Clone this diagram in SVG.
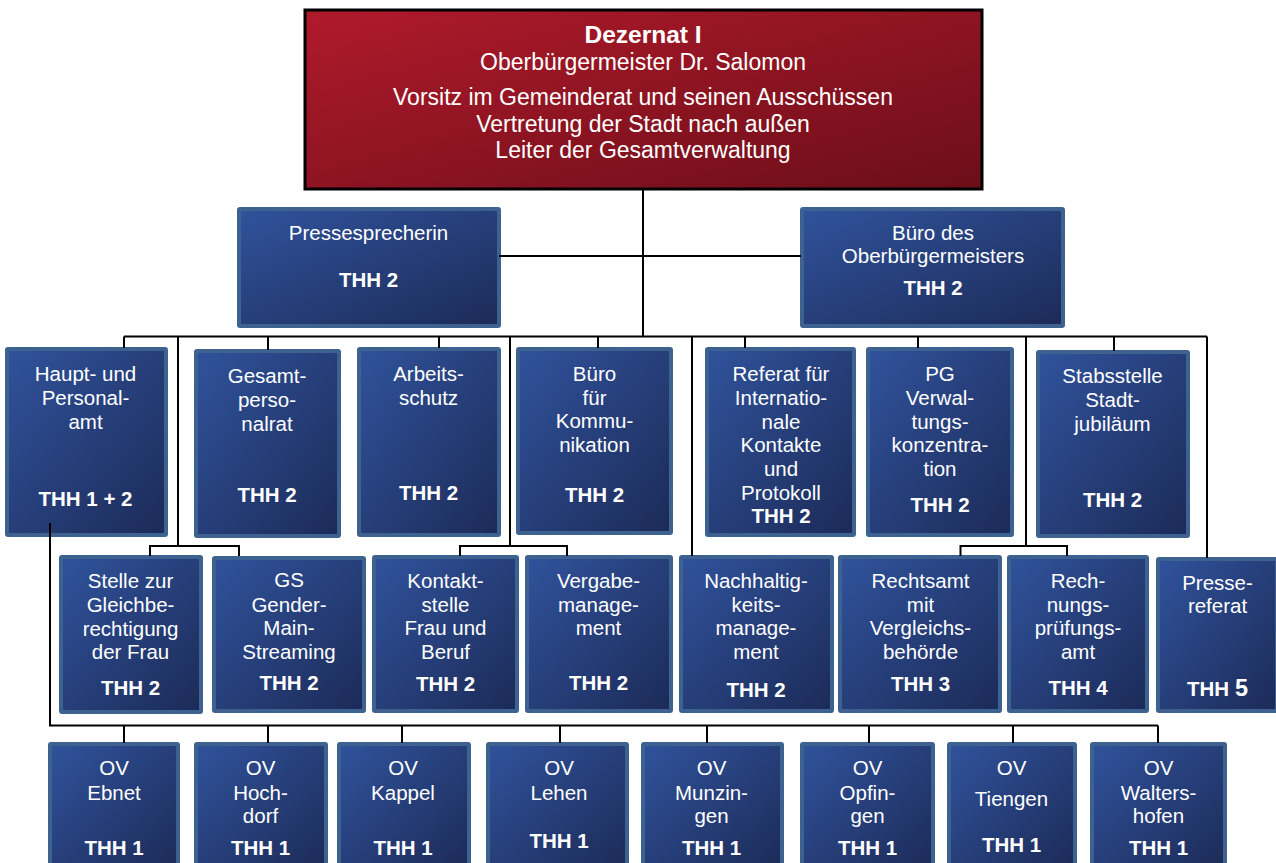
<svg xmlns="http://www.w3.org/2000/svg" width="1276" height="863" viewBox="0 0 1276 863">
<defs>
<linearGradient id="blue" x1="0" y1="0" x2="1" y2="1">
<stop offset="0" stop-color="#30529b"/>
<stop offset="1" stop-color="#1c2b58"/>
</linearGradient>
<linearGradient id="red" x1="0" y1="0" x2="1" y2="1">
<stop offset="0" stop-color="#b01a2b"/>
<stop offset="1" stop-color="#6b0e19"/>
</linearGradient>
<style>
.frame{fill:#3d6290}
.fill{fill:url(#blue)}
.t{font-family:"Liberation Sans",Arial,sans-serif;font-size:20.5px;fill:#fff;text-anchor:middle}
.b{font-weight:bold}
.c{fill:none;stroke:#000;stroke-width:2}
</style>
</defs>
<rect width="1276" height="863" fill="#fff"/>

<g id="dezernat">
<rect x="305" y="10" width="677" height="179" fill="url(#red)" stroke="#000" stroke-width="3"/>
<text class="t b" x="643" y="43" style="font-size:24.5px">Dezernat I</text>
<text class="t" x="643" y="70" style="font-size:23px">Oberbürgermeister Dr. Salomon</text>
<text class="t" x="643" y="105" style="font-size:23px">Vorsitz im Gemeinderat und seinen Ausschüssen</text>
<text class="t" x="643" y="131.5" style="font-size:23px">Vertretung der Stadt nach außen</text>
<text class="t" x="643" y="158" style="font-size:23px">Leiter der Gesamtverwaltung</text>
</g>

<g id="pressesprecherin">
<rect class="frame" x="237" y="207" width="264" height="121" rx="3"/>
<rect class="fill" x="241" y="211" width="256" height="113"/>
<text class="t" x="368.5" y="240">Pressesprecherin</text>
<text class="t b" x="368.5" y="287">THH 2</text>
</g>

<g id="buero-ob">
<rect class="frame" x="800" y="207" width="265" height="121" rx="3"/>
<rect class="fill" x="804" y="211" width="257" height="113"/>
<text class="t" x="933" y="239.5">Büro des</text>
<text class="t" x="933" y="263">Oberbürgermeisters</text>
<text class="t b" x="933" y="295">THH 2</text>
</g>

<g id="haupt">
<rect class="frame" x="5" y="347" width="163" height="190" rx="3"/>
<rect class="fill" x="9" y="351" width="155" height="182"/>
<text class="t" x="85.5" y="381">Haupt- und</text>
<text class="t" x="85.5" y="405">Personal-</text>
<text class="t" x="85.5" y="429">amt</text>
<text class="t b" x="85.5" y="506">THH 1 + 2</text>
</g>

<g id="gesamtpersonalrat">
<rect class="frame" x="194" y="349" width="147" height="189" rx="3"/>
<rect class="fill" x="198" y="353" width="139" height="181"/>
<text class="t" x="267" y="383">Gesamt-</text>
<text class="t" x="267" y="406.5">perso-</text>
<text class="t" x="267" y="430.5">nalrat</text>
<text class="t b" x="267" y="502">THH 2</text>
</g>

<g id="arbeitsschutz">
<rect class="frame" x="357" y="347" width="144" height="190" rx="3"/>
<rect class="fill" x="361" y="351" width="136" height="182"/>
<text class="t" x="428.5" y="381">Arbeits-</text>
<text class="t" x="428.5" y="405">schutz</text>
<text class="t b" x="428.5" y="500">THH 2</text>
</g>

<g id="buero-kommunikation">
<rect class="frame" x="516" y="347" width="157" height="188" rx="3"/>
<rect class="fill" x="520" y="351" width="149" height="180"/>
<text class="t" x="594.5" y="381">Büro</text>
<text class="t" x="594.5" y="404.5">für</text>
<text class="t" x="594.5" y="428">Kommu-</text>
<text class="t" x="594.5" y="451.5">nikation</text>
<text class="t b" x="594.5" y="502">THH 2</text>
</g>

<g id="referat-international">
<rect class="frame" x="705" y="347" width="151" height="190" rx="3"/>
<rect class="fill" x="709" y="351" width="143" height="182"/>
<text class="t" x="781" y="381">Referat für</text>
<text class="t" x="781" y="405">Internatio-</text>
<text class="t" x="781" y="429">nale</text>
<text class="t" x="781" y="452">Kontakte</text>
<text class="t" x="781" y="476">und</text>
<text class="t" x="781" y="500">Protokoll</text>
<text class="t b" x="781" y="523">THH 2</text>
</g>

<g id="pg-verwaltung">
<rect class="frame" x="866" y="347" width="148" height="190" rx="3"/>
<rect class="fill" x="870" y="351" width="140" height="182"/>
<text class="t" x="940" y="381">PG</text>
<text class="t" x="940" y="405">Verwal-</text>
<text class="t" x="940" y="429">tungs-</text>
<text class="t" x="940" y="452">konzentra-</text>
<text class="t" x="940" y="476">tion</text>
<text class="t b" x="940" y="512">THH 2</text>
</g>

<g id="stabsstelle">
<rect class="frame" x="1036" y="350" width="154" height="188" rx="3"/>
<rect class="fill" x="1040" y="354" width="146" height="180"/>
<text class="t" x="1112.5" y="383">Stabsstelle</text>
<text class="t" x="1112.5" y="407">Stadt-</text>
<text class="t" x="1112.5" y="430.5">jubiläum</text>
<text class="t b" x="1112.5" y="507">THH 2</text>
</g>

<g id="gleichberechtigung">
<rect class="frame" x="59" y="555" width="144" height="159" rx="3"/>
<rect class="fill" x="63" y="559" width="136" height="151"/>
<text class="t" x="130.5" y="588">Stelle zur</text>
<text class="t" x="130.5" y="612">Gleichbe-</text>
<text class="t" x="130.5" y="635.5">rechtigung</text>
<text class="t" x="130.5" y="659">der Frau</text>
<text class="t b" x="130.5" y="695">THH 2</text>
</g>

<g id="gender">
<rect class="frame" x="212" y="556" width="154" height="157" rx="3"/>
<rect class="fill" x="216" y="560" width="146" height="149"/>
<text class="t" x="289" y="587">GS</text>
<text class="t" x="289" y="611.5">Gender-</text>
<text class="t" x="289" y="635">Main-</text>
<text class="t" x="289" y="659">Streaming</text>
<text class="t b" x="289" y="690">THH 2</text>
</g>

<g id="kontaktstelle">
<rect class="frame" x="372" y="555" width="147" height="158" rx="3"/>
<rect class="fill" x="376" y="559" width="139" height="150"/>
<text class="t" x="445.5" y="588">Kontakt-</text>
<text class="t" x="445.5" y="612">stelle</text>
<text class="t" x="445.5" y="635">Frau und</text>
<text class="t" x="445.5" y="659">Beruf</text>
<text class="t b" x="445.5" y="691">THH 2</text>
</g>

<g id="vergabe">
<rect class="frame" x="525" y="555" width="148" height="158" rx="3"/>
<rect class="fill" x="529" y="559" width="140" height="150"/>
<text class="t" x="598.5" y="588">Vergabe-</text>
<text class="t" x="598.5" y="612">manage-</text>
<text class="t" x="598.5" y="635">ment</text>
<text class="t b" x="598.5" y="690">THH 2</text>
</g>

<g id="nachhaltigkeit">
<rect class="frame" x="679" y="555" width="155" height="158" rx="3"/>
<rect class="fill" x="683" y="559" width="147" height="150"/>
<text class="t" x="756" y="588">Nachhaltig-</text>
<text class="t" x="756" y="612">keits-</text>
<text class="t" x="756" y="635">manage-</text>
<text class="t" x="756" y="659">ment</text>
<text class="t b" x="756" y="697">THH 2</text>
</g>

<g id="rechtsamt">
<rect class="frame" x="838" y="555" width="164" height="158" rx="3"/>
<rect class="fill" x="842" y="559" width="156" height="150"/>
<text class="t" x="920.5" y="588">Rechtsamt</text>
<text class="t" x="920.5" y="612">mit</text>
<text class="t" x="920.5" y="635">Vergleichs-</text>
<text class="t" x="920.5" y="659">behörde</text>
<text class="t b" x="920.5" y="691">THH 3</text>
</g>

<g id="rechnungspruefung">
<rect class="frame" x="1007" y="555" width="142" height="158" rx="3"/>
<rect class="fill" x="1011" y="559" width="134" height="150"/>
<text class="t" x="1078" y="588">Rech-</text>
<text class="t" x="1078" y="612">nungs-</text>
<text class="t" x="1078" y="635">prüfungs-</text>
<text class="t" x="1078" y="659">amt</text>
<text class="t b" x="1078" y="694.5">THH 4</text>
</g>

<g id="pressereferat">
<rect class="frame" x="1156" y="557" width="123" height="156" rx="3"/>
<rect class="fill" x="1160" y="561" width="115" height="148"/>
<text class="t" x="1217.5" y="590">Presse-</text>
<text class="t" x="1217.5" y="613">referat</text>
<text class="t b" x="1217.5" y="696">THH <tspan style="font-size:23.5px">5</tspan></text>
</g>

<g id="ov-ebnet">
<rect class="frame" x="48" y="742" width="132" height="130" rx="3"/>
<rect class="fill" x="52" y="746" width="124" height="122"/>
<text class="t" x="114" y="775">OV</text>
<text class="t" x="114" y="800">Ebnet</text>
<text class="t b" x="114" y="855">THH 1</text>
</g>

<g id="ov-hochdorf">
<rect class="frame" x="194" y="742" width="134" height="130" rx="3"/>
<rect class="fill" x="198" y="746" width="126" height="122"/>
<text class="t" x="260.5" y="775">OV</text>
<text class="t" x="260.5" y="800">Hoch-</text>
<text class="t" x="260.5" y="822.5">dorf</text>
<text class="t b" x="260.5" y="855">THH 1</text>
</g>

<g id="ov-kappel">
<rect class="frame" x="337" y="742" width="134" height="130" rx="3"/>
<rect class="fill" x="341" y="746" width="126" height="122"/>
<text class="t" x="403" y="775">OV</text>
<text class="t" x="403" y="800">Kappel</text>
<text class="t b" x="403" y="855">THH 1</text>
</g>

<g id="ov-lehen">
<rect class="frame" x="486" y="742" width="143" height="130" rx="3"/>
<rect class="fill" x="490" y="746" width="135" height="122"/>
<text class="t" x="559" y="775">OV</text>
<text class="t" x="559" y="800">Lehen</text>
<text class="t b" x="559" y="848">THH 1</text>
</g>

<g id="ov-munzingen">
<rect class="frame" x="641" y="742" width="143" height="130" rx="3"/>
<rect class="fill" x="645" y="746" width="135" height="122"/>
<text class="t" x="711.5" y="775">OV</text>
<text class="t" x="711.5" y="800">Munzin-</text>
<text class="t" x="711.5" y="822.5">gen</text>
<text class="t b" x="711.5" y="855">THH 1</text>
</g>

<g id="ov-opfingen">
<rect class="frame" x="800" y="742" width="135" height="130" rx="3"/>
<rect class="fill" x="804" y="746" width="127" height="122"/>
<text class="t" x="867.5" y="775">OV</text>
<text class="t" x="867.5" y="800">Opfin-</text>
<text class="t" x="867.5" y="822.5">gen</text>
<text class="t b" x="867.5" y="855">THH 1</text>
</g>

<g id="ov-tiengen">
<rect class="frame" x="947" y="742" width="130" height="130" rx="3"/>
<rect class="fill" x="951" y="746" width="122" height="122"/>
<text class="t" x="1011.5" y="775">OV</text>
<text class="t" x="1011.5" y="806">Tiengen</text>
<text class="t b" x="1011.5" y="852">THH 1</text>
</g>

<g id="ov-waltershofen">
<rect class="frame" x="1090" y="742" width="137" height="130" rx="3"/>
<rect class="fill" x="1094" y="746" width="129" height="122"/>
<text class="t" x="1158.5" y="775">OV</text>
<text class="t" x="1158.5" y="800">Walters-</text>
<text class="t" x="1158.5" y="822.5">hofen</text>
<text class="t b" x="1158.5" y="855">THH 1</text>
</g>

<g id="connectors">
<path class="c" d="M643 190V336.5M499 256H801"/>
<path class="c" d="M124 336.5H1207"/>
<path class="c" d="M124 336.5V348M178 336.5V546M268 336.5V350M439 336.5V348M510 336.5V546M598 336.5V348M692 336.5V556M745 336.5V348M918 336.5V348M1026 336.5V546M1114 336.5V351M1207 336.5V558"/>
<path class="c" d="M150 556V546H239V556M460 556V546H567V556M960.5 556V546H1067V556"/>
<path class="c" d="M50 523V725.5H1158"/>
<path class="c" d="M124 725.5V743M268 725.5V743M402 725.5V743M560 725.5V743M707 725.5V743M869 725.5V743M1013 725.5V743M1158 725.5V743"/>
</g>
</svg>
